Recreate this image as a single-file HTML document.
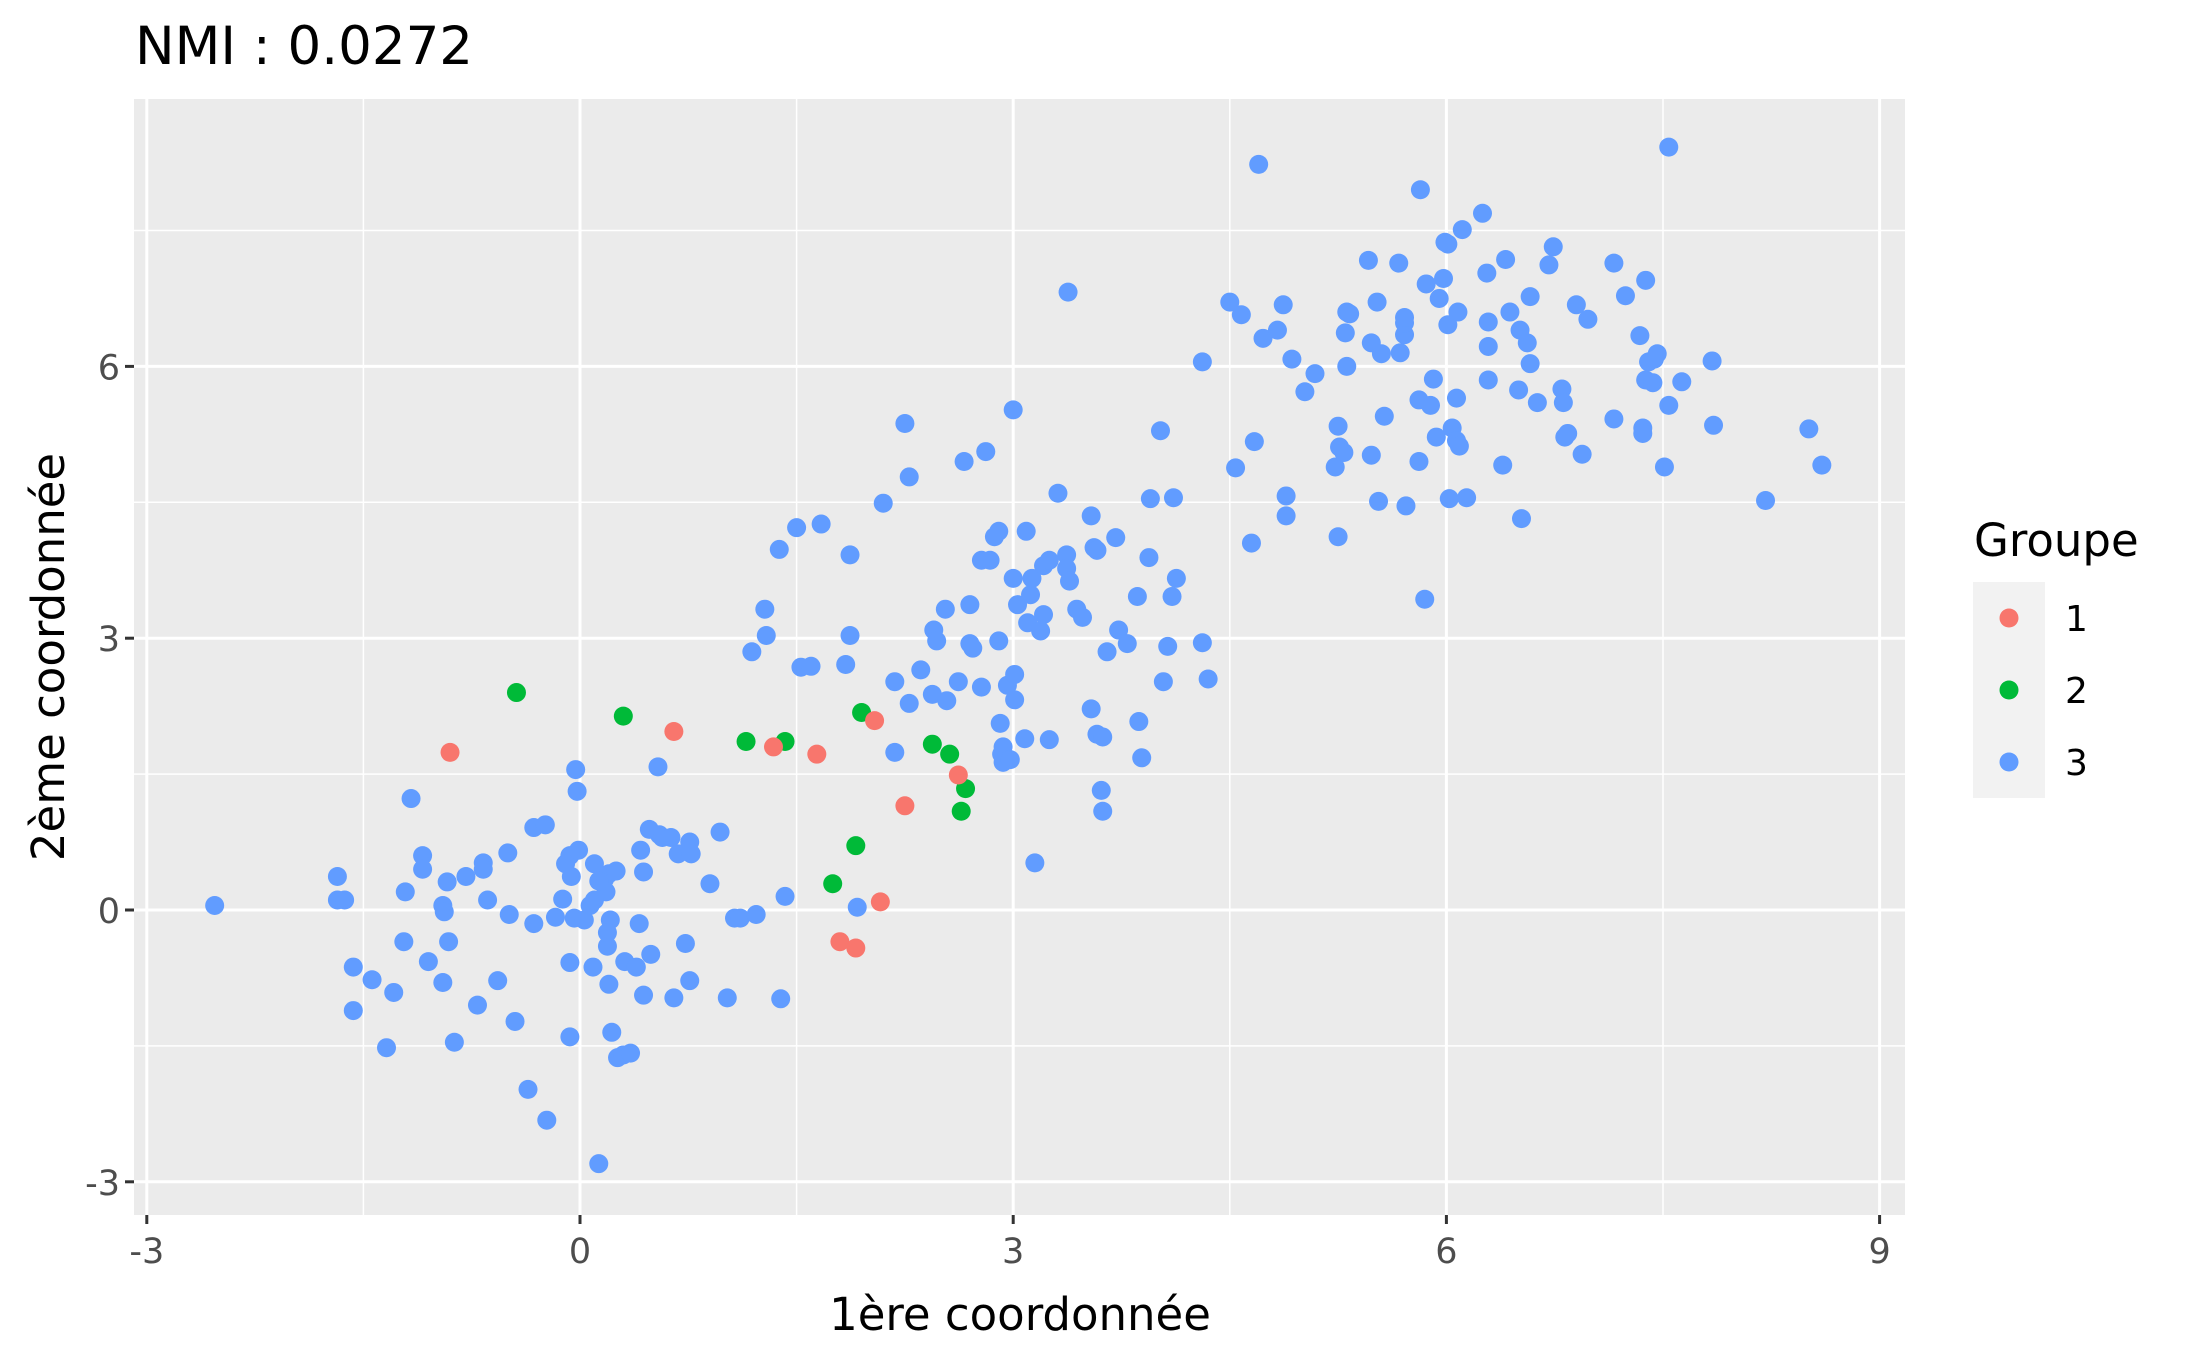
<!DOCTYPE html>
<html><head><meta charset="utf-8"><style>
html,body{margin:0;padding:0;background:#fff;}
svg{display:block;font-family:"DejaVu Sans","Liberation Sans",sans-serif;}
</style></head><body>
<svg id="chart" width="2187" height="1350" viewBox="0 0 2187 1350" xmlns="http://www.w3.org/2000/svg">
<rect x="0" y="0" width="2187" height="1350" fill="#fff"/>
<text x="135" y="64" font-size="53" fill="#000">NMI : 0.0272</text>
<rect x="134" y="99" width="1771" height="1116" fill="#ebebeb"/>
<g id="grid"></g>
<g id="points"></g>
<g id="axes"></g>
<text x="1020" y="1330" font-size="45" text-anchor="middle" fill="#000">1ère coordonnée</text>
<text transform="translate(64,657) rotate(-90)" font-size="45" text-anchor="middle" fill="#000">2ème coordonnée</text>
<g>
<text x="1974" y="556" font-size="45" fill="#000">Groupe</text>
<rect x="1973" y="582" width="72" height="216" fill="#f2f2f2"/>
<circle cx="2009" cy="618" r="9.5" fill="#F8766D"/>
<circle cx="2009" cy="690" r="9.5" fill="#00BA38"/>
<circle cx="2009" cy="762" r="9.5" fill="#619CFF"/>
<text x="2065" y="631" font-size="36" fill="#000">1</text>
<text x="2065" y="703" font-size="36" fill="#000">2</text>
<text x="2065" y="775" font-size="36" fill="#000">3</text>
</g>
</svg>
<script>
const xTicks = [-3, 0, 3, 6, 9];
const yTicks = [-3, 0, 3, 6];
const xMinor = [-1.5, 1.5, 4.5, 7.5];
const yMinor = [-1.5, 1.5, 4.5, 7.5];
const xTickLabels = ["-3", "0", "3", "6", "9"];
const yTickLabels = ["-3", "0", "3", "6"];
const g1x = [-0.90,0.65,1.34,1.64,2.04,2.25,2.62,1.80,1.91,2.08];
const g1y = [1.74,1.97,1.80,1.72,2.09,1.15,1.49,-0.35,-0.42,0.09];
const g2x = [-0.44,0.30,1.15,1.42,1.95,2.44,2.56,2.67,2.64,1.91,1.75];
const g2y = [2.40,2.14,1.86,1.86,2.18,1.83,1.72,1.34,1.09,0.71,0.29];
const g3x = [-2.53,-1.68,-1.68,-1.63,-1.57,-1.57,-1.44,-1.34,-1.29,-1.22,-1.21,-1.17,-1.09,-1.09,-1.05,-0.95,-0.94,-0.92,-0.91,-0.95,-0.87,-0.79,-0.71,-0.67,-0.67,-0.64,-0.57,-0.50,-0.49,-0.45,-0.36,-0.32,-0.32,-0.24,-0.23,-0.12,-0.07,-0.07,-0.06,-0.07,-0.03,-0.02,-0.04,-0.01,0.03,0.07,0.09,0.10,0.13,0.17,0.18,0.19,0.20,0.21,0.22,0.20,0.25,0.26,0.30,0.31,0.35,0.39,0.41,0.42,0.44,0.48,0.49,0.55,0.57,0.63,0.65,0.68,0.73,0.76,0.77,0.76,0.90,0.97,1.02,1.07,1.11,1.22,1.39,1.42,0.54,0.44,0.13,-0.10,-0.17,0.10,0.19,
1.19,1.28,1.29,1.38,1.50,1.67,1.53,1.60,1.87,1.87,1.84,1.92,2.10,2.18,2.18,2.25,2.28,2.28,2.36,2.44,2.45,2.47,2.53,2.54,2.62,2.66,2.70,2.70,2.72,2.78,2.78,2.81,2.84,2.87,2.90,2.90,2.91,2.92,2.93,2.93,2.96,2.98,3.00,3.01,3.01,3.00,3.03,3.08,3.09,3.10,3.12,3.13,3.15,3.19,3.21,3.21,3.25,3.25,3.31,3.37,3.37,3.38,3.39,3.44,3.48,3.54,3.54,3.56,3.58,3.58,3.62,3.61,3.62,3.65,3.71,3.73,3.79,3.86,3.87,3.89,3.94,3.95,4.02,4.04,4.07,4.10,4.11,4.13,4.31,4.31,4.35,
4.70,4.50,4.58,4.54,4.65,4.67,4.73,4.83,4.87,4.89,4.89,4.93,5.02,5.09,5.23,5.25,5.25,5.26,5.29,5.31,5.33,5.30,5.31,5.46,5.48,5.48,5.52,5.53,5.55,5.57,5.67,5.68,5.71,5.71,5.71,5.72,5.81,5.82,5.81,5.85,5.86,5.89,5.91,5.93,5.95,5.98,5.99,6.01,6.01,6.02,6.04,6.07,6.07,6.08,6.09,6.11,6.14,6.25,6.28,6.29,6.29,6.29,6.39,6.41,6.44,6.50,6.52,6.51,6.56,6.58,6.58,6.63,6.71,6.74,6.80,6.81,6.82,6.84,6.90,6.94,6.98,7.16,7.16,7.24,7.34,7.36,7.36,7.38,7.38,7.40,7.43,7.44,7.46,7.51,7.54,7.54,7.63,7.84,7.85,8.21,8.51,8.60];
const g3y = [0.05,0.37,0.11,0.11,-0.63,-1.11,-0.77,-1.52,-0.91,-0.35,0.20,1.23,0.60,0.45,-0.57,0.05,-0.02,0.31,-0.35,-0.80,-1.46,0.37,-1.05,0.52,0.45,0.11,-0.78,0.63,-0.05,-1.23,-1.98,-0.15,0.91,0.94,-2.32,0.12,-0.58,-1.40,0.37,0.60,1.55,1.31,-0.09,0.66,-0.11,0.05,-0.63,0.51,-2.80,0.34,0.20,-0.40,-0.82,-0.11,-1.35,0.40,0.43,-1.63,-1.60,-0.57,-1.58,-0.63,-0.15,0.66,-0.94,0.89,-0.49,0.83,0.80,0.80,-0.97,0.62,-0.37,0.75,0.62,-0.78,0.29,0.86,-0.97,-0.09,-0.09,-0.05,-0.98,0.15,1.58,0.42,0.32,0.51,-0.08,0.11,-0.25,
2.85,3.32,3.03,3.98,4.22,4.26,2.68,2.69,3.92,3.03,2.71,0.03,4.49,2.52,1.74,5.37,4.78,2.28,2.65,2.38,3.09,2.97,3.32,2.31,2.52,4.95,2.94,3.37,2.89,3.86,2.46,5.06,3.86,4.12,2.97,4.18,2.06,1.72,1.80,1.63,2.48,1.66,5.52,2.60,2.32,3.66,3.37,1.89,4.18,3.17,3.48,3.66,0.52,3.08,3.26,3.80,3.86,1.88,4.60,3.92,3.77,6.82,3.63,3.32,3.23,2.22,4.35,4.00,3.97,1.94,1.91,1.32,1.09,2.85,4.11,3.09,2.94,3.46,2.08,1.68,3.89,4.54,5.29,2.52,2.91,3.46,4.55,3.66,6.05,2.95,2.55,
8.23,6.71,6.57,4.88,4.05,5.17,6.31,6.40,6.68,4.57,4.35,6.08,5.72,5.92,4.89,5.34,4.12,5.11,5.05,6.60,6.58,6.37,6.00,7.17,6.26,5.02,6.71,4.51,6.14,5.45,7.14,6.15,6.35,6.48,6.54,4.46,5.63,7.95,4.95,3.43,6.91,5.57,5.86,5.22,6.75,6.97,7.37,7.35,6.46,4.54,5.32,5.65,5.18,6.60,5.12,7.51,4.55,7.69,7.03,6.49,6.22,5.85,4.91,7.18,6.60,5.74,4.32,6.40,6.26,6.77,6.03,5.60,7.12,7.32,5.75,5.60,5.22,5.26,6.68,5.03,6.52,7.14,5.42,6.78,6.34,5.32,5.26,6.95,5.85,6.05,5.82,6.08,6.14,4.89,5.57,8.42,5.83,6.06,5.35,4.52,5.31,4.91];

const NS = "http://www.w3.org/2000/svg";
const PL = 134, PR = 1905, PT = 99, PB = 1215;
function sx(v){ return 580 + 144.4 * v; }
function sy(v){ return 910 - 90.6 * v; }
function mk(tag, attrs, parent){
  const e = document.createElementNS(NS, tag);
  for (const k in attrs) e.setAttribute(k, attrs[k]);
  parent.appendChild(e);
  return e;
}
const grid = document.getElementById('grid');
const axes = document.getElementById('axes');
const pts = document.getElementById('points');
xMinor.forEach(v => {
  const l = mk('line', {x1:sx(v), x2:sx(v), y1:PT, y2:PB, stroke:'#fff', 'stroke-width':1.5}, grid);
  
  
});
yMinor.forEach(v => {
  const l = mk('line', {x1:PL, x2:PR, y1:sy(v), y2:sy(v), stroke:'#fff', 'stroke-width':1.5}, grid);
  
  
});
xTicks.forEach((v, i) => {
  const l = mk('line', {x1:sx(v), x2:sx(v), y1:PT, y2:PB, stroke:'#fff', 'stroke-width':3}, grid);
  
  
  const t = mk('line', {x1:sx(v), x2:sx(v), y1:PB, y2:PB+9, stroke:'#333', 'stroke-width':3}, axes);
  
  
  const tx = mk('text', {x:sx(v), y:PB+48, 'font-size':35, fill:'#4d4d4d', 'text-anchor':'middle'}, axes);
  tx.textContent = xTickLabels[i];
  
  
});
yTicks.forEach((v, i) => {
  const l = mk('line', {x1:PL, x2:PR, y1:sy(v), y2:sy(v), stroke:'#fff', 'stroke-width':3}, grid);
  
  
  const t = mk('line', {x1:PL-9, x2:PL, y1:sy(v), y2:sy(v), stroke:'#333', 'stroke-width':3}, axes);
  
  
  const tx = mk('text', {x:PL-14, y:sy(v)+13, 'font-size':35, fill:'#4d4d4d', 'text-anchor':'end'}, axes);
  tx.textContent = yTickLabels[i];
  
  
});
function drawGroup(xs, ys, color, name){
  xs.forEach((v, i) => {
    const c = mk('circle', {cx:sx(v), cy:sy(ys[i]), r:9.5, fill:color}, pts);
    
    
  });
}
drawGroup(g3x, g3y, '#619CFF', 'point-group-3');
drawGroup(g2x, g2y, '#00BA38', 'point-group-2');
drawGroup(g1x, g1y, '#F8766D', 'point-group-1');
</script>
</body></html>
